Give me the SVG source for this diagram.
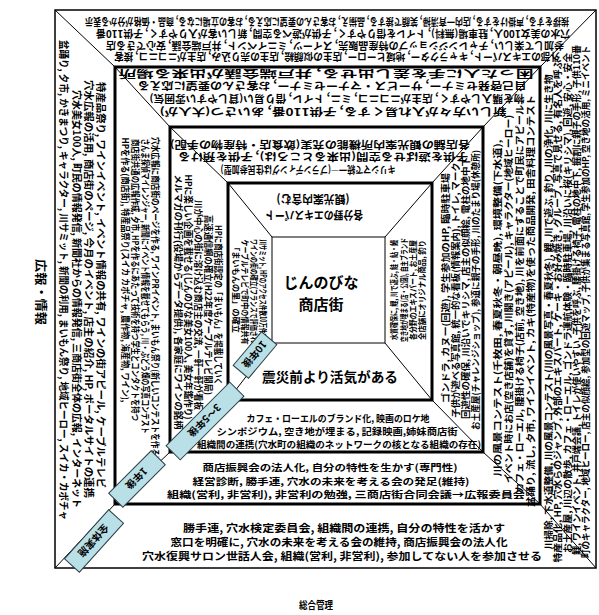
<svg xmlns="http://www.w3.org/2000/svg" width="599" height="615" viewBox="0 0 599 615">
<style>
text{font-family:"Noto Sans CJK JP","Noto Sans",sans-serif;font-weight:700;fill:#000;text-anchor:middle;dominant-baseline:central}
.fr{fill:none;stroke:#000;stroke-width:3}
.out{fill:none;stroke:#000;stroke-width:1.5}
.dg{fill:none;stroke:#000;stroke-width:1}
.lb rect{fill:#b9dfe7;stroke:#2b3d44;stroke-width:1}
.a{font-size:10px}.a2{font-size:9.5px}.b{font-size:9px}.c{font-size:8.5px}.m{font-size:10.5px}.big{font-size:15px}.mid{font-size:14px}
</style>
<rect width="599" height="615" fill="#fff"/>
<g id="frames">
<rect class="out" x="55" y="10" width="541" height="558"/>
<rect class="fr" x="115" y="67" width="425" height="437"/>
<rect class="fr" x="170" y="127" width="313" height="325"/>
<rect class="fr" x="228" y="183" width="204" height="217"/>
<rect class="dg" x="272" y="237" width="113" height="106"/>
</g>
<g id="connectors">
<polyline class="dg" points="55,10 115,67 170,127 228,183 272,237"/>
<polyline class="dg" points="596,10 540,67 483,127 432,183 385,237"/>
<polyline class="dg" points="596,568 540,504 483,452 432,400 385,343"/>
<polyline class="dg" points="55,568 115,504 170,452 228,400 272,343"/>
</g>
<g id="top-outer" class="a">
<text transform="translate(327,22) rotate(180)" textLength="484" lengthAdjust="spacingAndGlyphs">挨拶をする, 声掛けをする, 店内一斉清掃, 笑顔で接する, 品揃え, お客さんの要望に応える, お客の立場になる, 商品・価格が分かる表示</text>
<text transform="translate(333,34) rotate(180)" textLength="474" lengthAdjust="spacingAndGlyphs">穴水の美女100人, 駐車場(無料), トイレを借りやすく, 子供が遊べる空間, 新しい客が入りやすく, 子供110番</text>
<text transform="translate(335,46) rotate(180)" textLength="458" lengthAdjust="spacingAndGlyphs">参加して楽しい, チャレンジショップの特産品販売, スイーツ, ミニイベント, 井戸端会議, 安心できる店</text>
<text transform="translate(337,57) rotate(180)" textLength="446" lengthAdjust="spacingAndGlyphs">外部のエキスパート, キャラクター, 地域ヒーロー, 店主の似顔絵, 店主の売り込み, 店主がニコニコ, 接客</text>
</g>
<g id="top-2" class="a">
<text transform="translate(326,74) rotate(180)" textLength="415" lengthAdjust="spacingAndGlyphs">困った人に手を差し出せる, 井戸端会議が出来る場所</text>
<text transform="translate(332,86) rotate(180)" textLength="389" lengthAdjust="spacingAndGlyphs">自己啓発セミナー, サービス・マナーセミナー, お客さんの要望に応える</text>
<text transform="translate(337,99) rotate(180)" textLength="375" lengthAdjust="spacingAndGlyphs">物を購入しやすく, 店主がニコニコ, ミニ, トイレ, 借り易い(貸しやすい雰囲気)</text>
<text transform="translate(333,112) rotate(180)" textLength="347" lengthAdjust="spacingAndGlyphs">新しい方々が入れ易くする, 子供110番, あいさつ(大人が)</text>
</g>
<g id="top-3" class="a">
<text transform="translate(320,145) rotate(180)" textLength="300" lengthAdjust="spacingAndGlyphs">各店舗の観光案内所機能の充実(飲食店・特産物の手配)</text>
<text transform="translate(323,157) rotate(180)" textLength="290" lengthAdjust="spacingAndGlyphs">子供を遊ばせる空間(出来るところは), 子供を預ける</text>
<text transform="translate(308,170) rotate(180)" textLength="175" lengthAdjust="spacingAndGlyphs">キリシマで統一―(ブランディングは住民参加型)</text>
</g>
<g id="top-4" style="font-size:11.5px">
<text transform="translate(313,200) rotate(180)" textLength="73" lengthAdjust="spacingAndGlyphs">(観光案内含む)</text>
<text transform="translate(314,216) rotate(180)" textLength="98" lengthAdjust="spacingAndGlyphs">各分野のエキスパート</text>
</g>
<g id="center" class="big">
<text x="321" y="281">じんのびな</text>
<text x="321" y="303">商店街</text>
</g>
<g id="bottom-4" class="mid">
<text x="330" y="376" textLength="136" lengthAdjust="spacingAndGlyphs">震災前より活気がある</text>
</g>
<g id="bottom-3" class="a2">
<text x="338" y="418" textLength="183" lengthAdjust="spacingAndGlyphs">カフェ・ローエルのブランド化, 映画のロケ地</text>
<text x="337" y="431" textLength="241" lengthAdjust="spacingAndGlyphs">シンポジウム, 空き地が埋まる, 記録映画,姉妹商店街</text>
<text x="339" y="444" textLength="284" lengthAdjust="spacingAndGlyphs">組織間の連携(穴水町の組織のネットワークの核となる組織の存在)</text>
</g>
<g id="bottom-2" style="font-size:9.5px">
<text x="330" y="467" textLength="255" lengthAdjust="spacingAndGlyphs">商店振興会の法人化, 自分の特性を生かす(専門性)</text>
<text x="331" y="481" textLength="277" lengthAdjust="spacingAndGlyphs">経営診断, 勝手連, 穴水の未来を考える会の発足(維持)</text>
<text x="346" y="494" textLength="358" lengthAdjust="spacingAndGlyphs">組織(営利, 非営利), 非営利の勉強, 三商店街合同会議→広報委員会</text>
</g>
<g id="bottom-outer" class="m">
<text x="344" y="527" textLength="322" lengthAdjust="spacingAndGlyphs">勝手連, 穴水検定委員会, 組織間の連携, 自分の特性を活かす</text>
<text x="339" y="541" textLength="337" lengthAdjust="spacingAndGlyphs">窓口を明確に, 穴水の未来を考える会の維持, 商店振興会の法人化</text>
<text x="342" y="555" textLength="400" lengthAdjust="spacingAndGlyphs">穴水復興サロン世話人会, 組織(営利, 非営利), 参加してない人を参加させる</text>
</g>
<g id="left-outer" class="a">
<text transform="translate(64,280) rotate(90)" textLength="480" lengthAdjust="spacingAndGlyphs">盆踊り, 夕市, かきまつり, キャラクター, 川サミット, 新聞の利用, まいもん祭り, 地域ヒーロー, スイカ・カボチャ</text>
<text transform="translate(77,299) rotate(90)" textLength="418" lengthAdjust="spacingAndGlyphs">穴水美女100人, 町民の情報発信, 新聞社からの情報発信, 三商店街全体の広報, インターネット</text>
<text transform="translate(89,289) rotate(90)" textLength="418" lengthAdjust="spacingAndGlyphs">穴水広報の活用, 商店街のページ, 今月のイベント, 店主の紹介, HP, ポータルサイトの連携</text>
<text transform="translate(101,285) rotate(90)" textLength="406" lengthAdjust="spacingAndGlyphs">特産品祭り, ワインイベント, イベント情報の共有, ワインの街アピール, ケーブルテレビ</text>
</g>
<g id="left-2" class="b">
<text transform="translate(125,270) rotate(90)" textLength="265" lengthAdjust="spacingAndGlyphs">HPを作る(商店街), 特産品祭り(スイカ カボチャ, 農作物, 海産物, ワイン),</text>
<text transform="translate(135,280) rotate(90)" textLength="282" lengthAdjust="spacingAndGlyphs">商店街共通の広報作成, 夕市, HPを作るにあたって技術を持つ学生とコンタクトを持つ</text>
<text transform="translate(145,286) rotate(90)" textLength="295" lengthAdjust="spacingAndGlyphs">さんま探偵マイレンジャー, 新聞にイベント情報を載せてもらう, 川・ぶどう畑の写真コンテスト</text>
<text transform="translate(155,298) rotate(90)" textLength="322" lengthAdjust="spacingAndGlyphs">穴水広報に商店街のページを作る, ワインPRイベント, まいもん祭り(新しいコンテストを作る)</text>
</g>
<g id="left-3" class="b">
<text transform="translate(178,302) rotate(90)" textLength="255" lengthAdjust="spacingAndGlyphs">メルマガの刊行(役場からデータ提供), 各家庭にワインの銘柄</text>
<text transform="translate(188,297) rotate(90)" textLength="245" lengthAdjust="spacingAndGlyphs">HPに楽しい企画を載せる(じんのびな美女100人, 美女年鑑作り)</text>
<text transform="translate(198,305) rotate(90)" textLength="210" lengthAdjust="spacingAndGlyphs">川が中心の街に溶け込む商店主の交流, 一軒一軒が看板</text>
<text transform="translate(208,305) rotate(90)" textLength="180" lengthAdjust="spacingAndGlyphs">高速通信網の確立(H22年度ケーブルテレビ開局)</text>
<text transform="translate(218,305) rotate(90)" textLength="160" lengthAdjust="spacingAndGlyphs">HPに商店街認定の「まいもん」を掲載していく</text>
</g>
<g id="left-4" class="c">
<text transform="translate(237,288) rotate(90)" textLength="90" lengthAdjust="spacingAndGlyphs">「まいもんの里」の確立</text>
<text transform="translate(246,292) rotate(90)" textLength="105" lengthAdjust="spacingAndGlyphs">ケーブルテレビで町中の情報共有</text>
<text transform="translate(255,295) rotate(90)" textLength="112" lengthAdjust="spacingAndGlyphs">ワインの街の確立(フランスで評価される)</text>
<text transform="translate(264,292) rotate(90)" textLength="105" lengthAdjust="spacingAndGlyphs">川サミット, HPのアクセス件数10万件突破</text>
</g>
<g id="right-4" class="c">
<text transform="translate(393,290) rotate(-90)" textLength="100" lengthAdjust="spacingAndGlyphs">水質確保に, 鯉, 川で遊ぶ, 鮭・鮎・鰻</text>
<text transform="translate(403,290) rotate(-90)" textLength="104" lengthAdjust="spacingAndGlyphs">空き地が埋まる(店・公園), 自主ブランド</text>
<text transform="translate(412,290) rotate(-90)" textLength="100" lengthAdjust="spacingAndGlyphs">各分野のエキスパート, お土産屋</text>
<text transform="translate(421,290) rotate(-90)" textLength="100" lengthAdjust="spacingAndGlyphs">全店舗にオリジナル商品, 釣り</text>
</g>
<g id="right-3" class="b">
<text transform="translate(445,288) rotate(-90)" textLength="230" lengthAdjust="spacingAndGlyphs">ゴンドラ, カヌー(回遊), 学生参加のHP, 臨時駐車場</text>
<text transform="translate(455,290) rotate(-90)" textLength="255" lengthAdjust="spacingAndGlyphs">子供が遊べる写真館, 統一的な看板(情報案内), トイレ, マーク</text>
<text transform="translate(465,288) rotate(-90)" textLength="262" lengthAdjust="spacingAndGlyphs">回遊性の確保, 川沿いでキリシマ, 店主の似顔絵, 電柱の地中下</text>
<text transform="translate(475,290) rotate(-90)" textLength="280" lengthAdjust="spacingAndGlyphs">お土産屋(チャレンジショップ), 参道に親子の手形, 川のたまり場(休憩所)</text>
</g>
<g id="right-2" class="a2">
<text transform="translate(497,308) rotate(-90)" textLength="337" lengthAdjust="spacingAndGlyphs">川の風景コンテスト(千枚田, 春夏秋冬・朝昼晩), 環境整備(下水道),</text>
<text transform="translate(508,299) rotate(-90)" textLength="368" lengthAdjust="spacingAndGlyphs">イベント時にお店(空き店舗)を貸す, 川開き(アピール), キャラクター(地域ヒーロー)</text>
<text transform="translate(519,299) rotate(-90)" textLength="388" lengthAdjust="spacingAndGlyphs">カフェ・ローエル, 腰掛ける椅子(店前, 空き地), 川を前面にすることで町民にアピール</text>
<text transform="translate(530,301) rotate(-90)" textLength="412" lengthAdjust="spacingAndGlyphs">盆踊り, 流し, 夕市, ワインイベント, カキ(特産物)を使った商品開発, 田舎料理コンテスト</text>
</g>
<g id="right-outer" style="font-size:9.5px">
<text transform="translate(548,312) rotate(-90)" textLength="475" lengthAdjust="spacingAndGlyphs">川掃除, 下水道整備, 川の風景コンテスト(川の風景写真・春夏秋冬), 鯉, 川で遊ぶ, 釣り, 川の浄化, 川に生き物</text>
<text transform="translate(557,311) rotate(-90)" textLength="503" lengthAdjust="spacingAndGlyphs">特産品化, HP, 穴水らのジャンプ, 外部のエキスパート, ケーキ・お好み焼き, グループ, 写真で見せる, 有名人を呼ぶ</text>
<text transform="translate(567,303) rotate(-90)" textLength="500" lengthAdjust="spacingAndGlyphs">お土産屋, 川辺の散歩, カフェ・ローエル, ゴンドラ運航体験・臨時駐車場, 川沿いに桜(キリシマ), 回遊, 安心・安全</text>
<text transform="translate(576,300) rotate(-90)" textLength="510" lengthAdjust="spacingAndGlyphs">鯉, ワインイベント, 井戸端会議, トイレが使いやすい, 子供を呼ぶ, 腰掛ける椅子, 電柱の地中下, 掘割に親子の手形, 子供110番</text>
<text transform="translate(585,302) rotate(-90)" textLength="512" lengthAdjust="spacingAndGlyphs">町のキャラクター, 地域ヒーロー, 店主の似顔絵, 参加型の回遊マップ, 子供が集まる写真館, 学生参加のHP, 空き地の活用, ミニイベント</text>
</g>
<g id="stage-labels" class="lb" style="font-size:10px">
<g transform="translate(94,541) rotate(-48)"><rect x="-33" y="-10" width="66" height="20"/><text transform="rotate(180)">全体実施</text></g>
<g transform="translate(137,479) rotate(-45)"><rect x="-30" y="-10" width="60" height="20"/><text transform="rotate(180)">1年後</text></g>
<g transform="translate(205,421) rotate(-45)"><rect x="-45" y="-10" width="90" height="20"/><text transform="rotate(180)">3〜5年後</text></g>
<g transform="translate(255,355) rotate(-50)"><rect x="-22" y="-10" width="44" height="20"/><text transform="rotate(180)">10年後</text></g>
</g>
<g id="side-labels">
<text transform="translate(41,292) rotate(90)" style="font-size:12px" textLength="66" lengthAdjust="spacingAndGlyphs">広報・情報</text>
<text x="316" y="604" style="font-size:10px" textLength="34" lengthAdjust="spacingAndGlyphs">総合管理</text>
</g>
</svg>
